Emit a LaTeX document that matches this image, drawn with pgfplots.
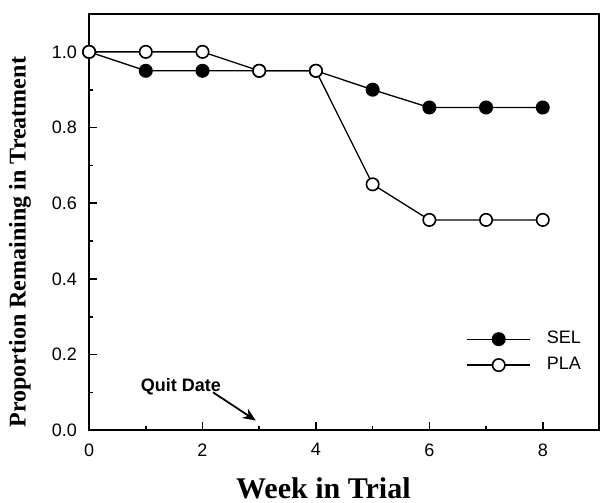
\documentclass[border=0pt]{standalone}
\usepackage{fontspec}
\setmainfont{Liberation Sans}
\newfontfamily\serifbold{Liberation Serif}
\usepackage{pgfplots}
\pgfplotsset{compat=1.18}
\usetikzlibrary{arrows.meta}
\begin{document}
\begin{tikzpicture}
\begin{axis}[at={(0,0)}, anchor=south west, scale only axis, width=255pt, height=208pt,
  xmin=0, xmax=9, ymin=0, ymax=1.1,
  xtick={0,2,4,6,8}, minor xtick={1,3,5,7},
  ytick={0,0.2,0.4,0.6,0.8,1.0}, minor ytick={0.1,0.3,0.5,0.7,0.9},
  tick align=inside, tick pos=left,
  major tick length=4pt, minor tick length=2pt,
  tick style={line width=0.8pt, black},
  axis line style={line width=1pt},
  /pgf/number format/assume math mode=true,
  yticklabel style={/pgf/number format/fixed, /pgf/number format/fixed zerofill, /pgf/number format/precision=1, xshift=-2.5pt},
  xticklabel style={yshift=-3pt},
  tick label style={font=\fontsize{9}{10}\selectfont},
  xlabel={Week in Trial},
  xlabel style={at={(axis description cs:0.459,-0.138)}, anchor=center, font=\serifbold\bfseries\fontsize{15}{16}\selectfont},
  ylabel={Proportion Remaining in Treatment},
  ylabel style={at={(axis description cs:-0.1353,0.452)}, anchor=center, font=\serifbold\bfseries\fontsize{12}{13}\selectfont},
  legend style={draw=none, fill=none, at={(axis description cs:0.727,0.188)}, anchor=west, font=\fontsize{9}{10}\selectfont, row sep=1.2pt, column sep=6pt},
  legend cell align=left,
  legend image code/.code={\draw[mark repeat=2,mark phase=2] plot coordinates {(0pt,0pt) (15.75pt,0pt) (31.5pt,0pt)};},
]
\addplot[black, line width=0.65pt, mark=*, mark size=3.1pt, mark options={fill=black, line width=0.8pt}] coordinates {(0,1)(1,0.95)(2,0.95)(3,0.95)(4,0.95)(5,0.90)(6,0.853)(7,0.853)(8,0.853)};
\addlegendentry{SEL}
\addplot[black, line width=0.65pt, mark=*, mark size=3.1pt, mark options={fill=white, line width=0.8pt}] coordinates {(0,1)(1,1)(2,1)(3,0.95)(4,0.95)(5,0.65)(6,0.556)(7,0.556)(8,0.556)};
\addlegendentry{PLA}
\node[font=\bfseries\fontsize{9}{10}\selectfont] at (axis cs:1.62,0.116) {Quit Date};
\draw[-{Stealth[length=6.5pt,width=5.5pt]}, line width=0.9pt] (axis cs:2.185,0.1005) -- (axis cs:2.94,0.026);
\end{axis}
\pgfresetboundingbox
\useasboundingbox (-44.5pt,-36pt) rectangle (255.25pt,215pt);
\end{tikzpicture}
\end{document}
